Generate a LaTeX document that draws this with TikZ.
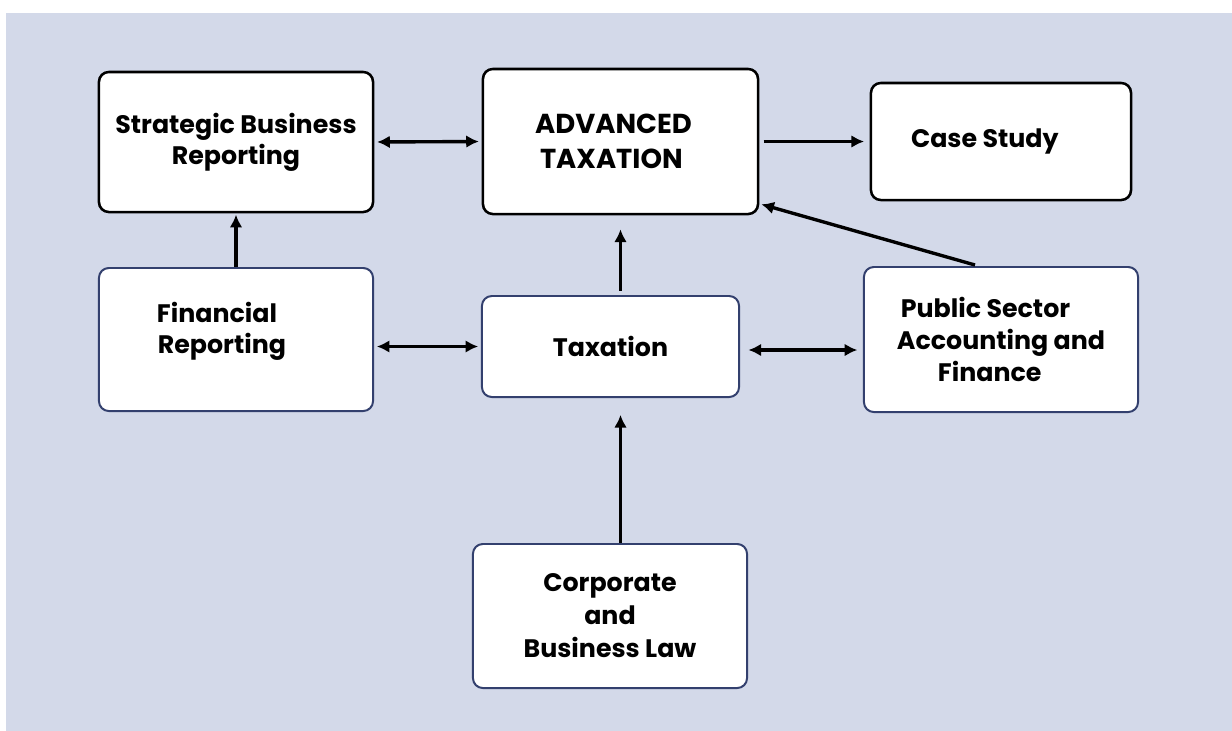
\documentclass[tikz,border=0pt]{standalone}
\usepackage{fontspec}
\setmainfont{Poppins}
\usetikzlibrary{arrows.meta,calc}

\definecolor{bgblue}{HTML}{D3D9E9}
\definecolor{navy}{HTML}{33406E}

\tikzset{
  topbox/.style={rectangle, rounded corners=7pt, draw=black, line width=1.8pt, fill=white, align=center, inner sep=0pt, font=\fontsize{18}{22}\selectfont\bfseries},
  lowbox/.style={topbox, draw=navy, line width=1.4pt},
  arr/.style={line width=2.4pt, >={Latex[length=9pt,width=9pt]}}
}

\begin{document}
\begin{tikzpicture}[x=0.025cm, y=-0.025cm]
% background
\fill[white] (0,0) rectangle (1232,731);
\fill[bgblue] (6,13) rectangle (1232,731);

% Top row
\node[topbox, minimum width=6.85cm, minimum height=3.5cm] (sbr) at (236,142) {Strategic Business\\Reporting};
\node[topbox, minimum width=6.875cm, minimum height=3.625cm, font=\fontsize{19.5}{25}\selectfont\bfseries] (adv) at (620.5,141.5) {ADVANCED\hspace*{10pt}\\TAXATION\hspace*{13pt}};
\node[topbox, minimum width=6.5cm, minimum height=2.925cm] (case) at (1001,141.5) {Case Study\hspace*{23pt}};

% Middle row
\node[lowbox, minimum width=6.85cm, minimum height=3.575cm] (fr) at (236,339.5) {Financial\hspace*{27pt}\\Reporting\hspace*{20pt}\rule[-17pt]{0pt}{0pt}};
\node[lowbox, minimum width=6.425cm, minimum height=2.525cm] (tax) at (610.5,346.5) {Taxation};
\node[lowbox, minimum width=6.85cm, minimum height=3.625cm, font=\fontsize{18}{23}\selectfont\bfseries] (psaf) at (1001,339.5) {Public Sector\hspace*{22pt}\\Accounting and\hspace*{20pt}\\Finance\hspace*{16pt}};

% Bottom
\node[lowbox, minimum width=6.85cm, minimum height=3.6cm, font=\fontsize{18}{23.5}\selectfont\bfseries] (corp) at (610,616) {Corporate\\and\\Business Law};

% Connections
\draw[arr, <->, shorten <=2pt, shorten >=2pt] (sbr.east) -- (adv.west);
\draw[arr, ->, shorten <=3pt, shorten >=4pt] (adv.east) -- (case.west);
\draw[arr, ->, shorten >=1pt] (fr.north) -- (sbr.south);
\draw[arr, ->, shorten <=3pt, shorten >=10pt] (adv.south |- tax.north) -- (adv.south);
\draw[arr, ->] ($(psaf.north)+(-26,-1)$) -- ($(adv.south east)+(2,-11)$);
\draw[arr, <->, shorten <=2pt, shorten >=2pt] (fr.east |- tax.west) -- (tax.west);
\draw[arr, <->, shorten <=6pt, shorten >=4pt] (tax.east |- 0,350) -- (psaf.west |- 0,350);
\draw[arr, ->, shorten >=12pt] (adv.south |- corp.north) -- (adv.south |- tax.south);
\end{tikzpicture}
\end{document}
